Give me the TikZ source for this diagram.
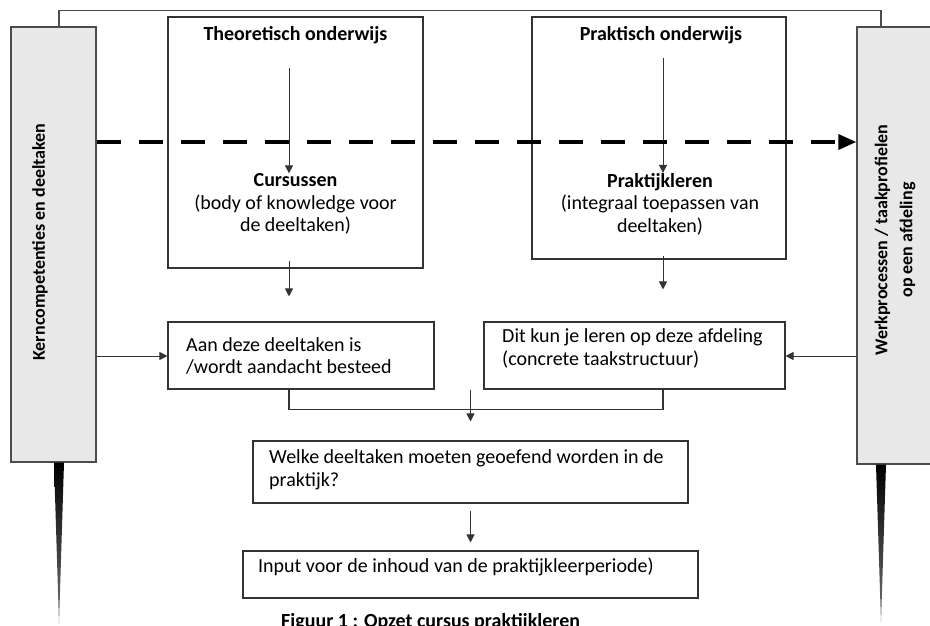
\documentclass[tikz,border=0pt]{standalone}
\usepackage{fontspec}
\setmainfont{Carlito}
\usetikzlibrary{arrows.meta}
\tikzset{
	every node/.style={font=\fontsize{20}{22.5}\selectfont},
	bar/.style={draw=black!70,line width=1.4pt,fill=black!9,inner sep=0},
	box/.style={draw=black!80,line width=1.1pt,inner sep=0},
	txt/.style={inner sep=0,align=left},
	bold/.style={font=\fontsize{20}{22.5}\selectfont\bfseries},
	sidetxt/.style={inner sep=0,rotate=90,align=center,font=\fontsize{18}{25}\selectfont\bfseries},
	arr/.style={draw=black!80,line width=1pt,-{Triangle[length=8pt,width=8pt]}},
	dasharrow/.style={line width=3.6pt,dash pattern=on 24pt off 18pt,-{Triangle[length=18pt,width=15pt]}},
	spike/.style={top color=black,bottom color=black!55},
}
\begin{document}
\begin{tikzpicture}
		[x=1pt,y=-1pt]
		\useasboundingbox (0,0) rectangle (930,625);
		\coordinate(k) at (59,0);
		\coordinate(w) at (881,0);
		\coordinate(t) at (289,0);
		\coordinate(p) at (663,0);
		\coordinate(d) at (0,142);
		\node[bar,minimum width=85pt,minimum height=435pt](kern) at (53.5,244.5){};
		\node[bar,minimum width=93pt,minimum height=437pt](werk) at (903.5,245.5){};
		\node[sidetxt](kerntxt) at (40,242){Kerncompetenties en deeltaken};
		\node[sidetxt](werktxt) at (895,240){Werkprocessen / taakprofielen\\op een afdeling};
		\draw[black!70,line width=1.4pt](kern.north -| k) -- ++(0,-16) -| (werk.north -| w);
		\path(kern.south -| k) coordinate(ks);
		\path(werk.south -| w) coordinate(ws);
		\shade[spike]([xshift=-5pt]ks) -- ([xshift=5pt]ks) -- ([yshift=-161pt]ks) -- cycle;
		\shade[spike]([xshift=-5pt]ws) -- ([xshift=5pt]ws) -- ([yshift=-158pt]ws) -- cycle;
		\node[box,minimum width=255pt,minimum height=251pt](theo) at (295.5,142.5){};
		\node[box,minimum width=254pt,minimum height=242pt](prak) at (659,138){};
		\node[txt,bold](theotitle) at (295.5,35){Theoretisch onderwijs};
		\node[txt,bold](praktitle) at (661,35){Praktisch onderwijs};
		\node[txt,align=center](cursus) at (295.5,204){\textbf{Cursussen}\\(body of knowledge voor\\de deeltaken)};
		\node[txt,align=center](leren) at (660,204){\textbf{Praktijkleren}\\(integraal toepassen van\\deeltaken)};
		\coordinate(t1) at (289,68);
		\coordinate(p1) at (663,58);
		\draw[arr](t1) -- (t |- cursus.north);
		\draw[arr](p1) -- (p |- leren.north);
		\node[box,minimum width=266pt,minimum height=67pt](aan) at (301,355.5){};
		\node[box,minimum width=301pt,minimum height=67pt](dit) at (634.5,355.5){};
		\node[txt,anchor=west](aantxt) at (186,356){Aan deze deeltaken is\\/wordt aandacht besteed};
		\node[txt,anchor=west](dittxt) at (502,348.5){Dit kun je leren op deze afdeling\\(concrete taakstructuur)};
		\draw[arr]([yshift=8pt]theo.south -| t) -- ([yshift=25pt]aan.north -| t);
		\draw[arr]([yshift=4pt]prak.south -| p) -- ([yshift=32pt]dit.north -| p);
		\draw[arr](kern.east |- aantxt) -- (aan.west |- aantxt);
		\draw[arr](werk.west |- aantxt) -- (dit.east |- aantxt);
		\node[box,minimum width=435pt,minimum height=62pt](welke) at (470.5,472){};
		\node[txt,anchor=west](welketxt) at (269,470){Welke deeltaken moeten geoefend worden in de\\praktijk?};
		\node[box,minimum width=455pt,minimum height=47pt](input) at (470.5,574.5){};
		\node[txt,anchor=west](inputtxt) at (258,567){Input voor de inhoud van de praktijkleerperiode)};
		\draw[black!80,line width=1.1pt](aan.south -| t) -- ++(0,20) -| (dit.south -| p);
		\draw[arr](aan.south -| welke.north) -- ([yshift=19pt]welke.north);
		\draw[arr]([yshift=-7pt]welke.south) -- ([yshift=8pt]input.north);
		\draw[dasharrow](kern.east |- d) -- (werk.west |- d);
		\node[txt,anchor=north west,bold](fig) at (281,613){Figuur 1 : Opzet cursus praktijkleren};
	\end{tikzpicture}
\end{document}
